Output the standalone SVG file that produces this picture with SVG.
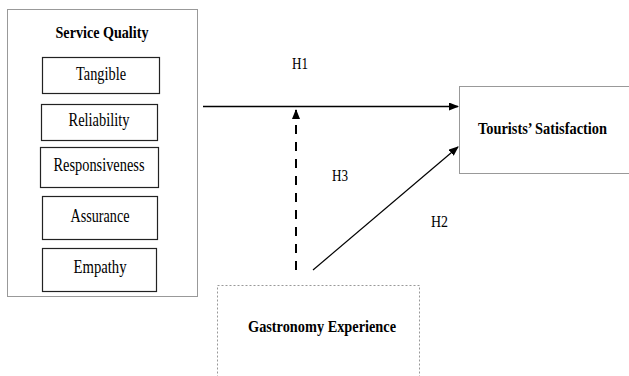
<svg xmlns="http://www.w3.org/2000/svg" width="629" height="376" viewBox="0 0 629 376">
<defs>
<style>
text{font-family:"Liberation Serif","Times New Roman",Tinos,serif;fill:#000;}
.b{font-weight:bold;font-size:17px;}
.r{font-size:18px;}
.h{font-size:17px;}
.outer{fill:#fff;stroke:#999;stroke-width:1;}
.inner{fill:#fff;stroke:#222;stroke-width:1.2;}
.conn{stroke:#000;fill:none;}
</style>
<marker id="ah" markerWidth="10" markerHeight="8" refX="9" refY="4" orient="auto" markerUnits="userSpaceOnUse">
<path d="M0,0 L10,4 L0,8 Z" fill="#000"/>
</marker>
</defs>
<rect width="629" height="376" fill="#fff"/>
<g font-family="Liberation Serif, serif">
<g id="service-quality">
<rect class="outer" x="7.5" y="9.5" width="190" height="287"/>
<text class="b" x="102" y="38" text-anchor="middle" textLength="93" lengthAdjust="spacingAndGlyphs">Service Quality</text>
</g>
<g id="tangible">
<rect class="inner" x="42.5" y="57.5" width="117" height="36"/>
<text class="r" x="101" y="80" text-anchor="middle" textLength="50" lengthAdjust="spacingAndGlyphs">Tangible</text>
</g>
<g id="reliability">
<rect class="inner" x="41.5" y="104.5" width="116" height="36"/>
<text class="r" x="99" y="126" text-anchor="middle" textLength="61" lengthAdjust="spacingAndGlyphs">Reliability</text>
</g>
<g id="responsiveness">
<rect class="inner" x="40.5" y="147.5" width="118" height="40"/>
<text class="r" x="99" y="171" text-anchor="middle" textLength="91" lengthAdjust="spacingAndGlyphs">Responsiveness</text>
</g>
<g id="assurance">
<rect class="inner" x="42.5" y="196.5" width="115" height="43"/>
<text class="r" x="100" y="222" text-anchor="middle" textLength="59" lengthAdjust="spacingAndGlyphs">Assurance</text>
</g>
<g id="empathy">
<rect class="inner" x="42.5" y="248.5" width="114" height="43"/>
<text class="r" x="100" y="273" text-anchor="middle" textLength="53" lengthAdjust="spacingAndGlyphs">Empathy</text>
</g>
<g id="tourists-satisfaction">
<rect class="outer" x="459.5" y="86.5" width="175" height="87"/>
<text class="b" x="478" y="134" textLength="129" lengthAdjust="spacingAndGlyphs">Tourists’ Satisfaction</text>
</g>
<g id="gastronomy-experience">
<rect x="217.5" y="285.5" width="202" height="100" fill="#fff" stroke="#999" stroke-width="1" stroke-dasharray="2,2"/>
<text class="b" x="322" y="332" text-anchor="middle" textLength="148" lengthAdjust="spacingAndGlyphs">Gastronomy Experience</text>
</g>
<g id="connectors">
<line class="conn" x1="203" y1="106.5" x2="458" y2="106.5" stroke-width="1.3" marker-end="url(#ah)"/>
<line class="conn" x1="296" y1="270" x2="296" y2="110" stroke-width="2" stroke-dasharray="9,8" marker-end="url(#ah)"/>
<line class="conn" x1="313" y1="270" x2="458" y2="147" stroke-width="1.2" marker-end="url(#ah)"/>
</g>
<g id="labels">
<text class="h" x="292" y="69" textLength="16" lengthAdjust="spacingAndGlyphs">H1</text>
<text class="h" x="332" y="181" textLength="16" lengthAdjust="spacingAndGlyphs">H3</text>
<text class="h" x="431" y="227" textLength="17" lengthAdjust="spacingAndGlyphs">H2</text>
</g>
</g>
</svg>
